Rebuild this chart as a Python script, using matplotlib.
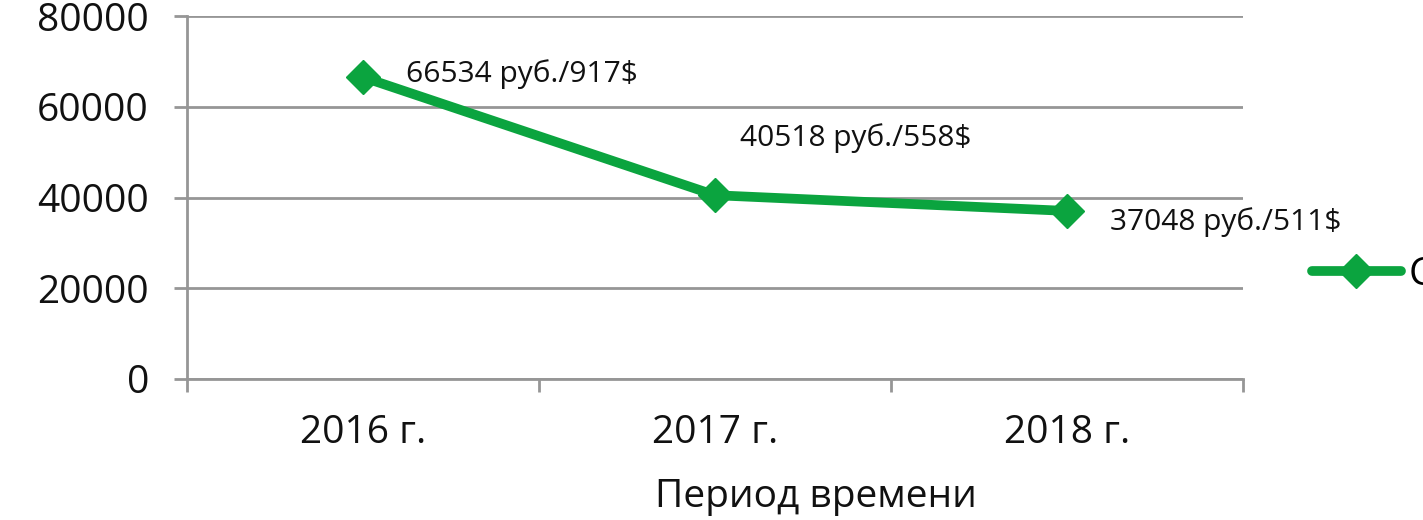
import matplotlib
matplotlib.use("Agg")
import matplotlib.pyplot as plt
from matplotlib.ticker import FixedLocator, NullFormatter

# data
years = ["2016 г.", "2017 г.", "2018 г."]
values = [66534, 40518, 37048]
labels = ["66534 руб./917$", "40518 руб./558$", "37048 руб./511$"]
label_offsets = [(31, 2), (18, 41), (31, -8)]  # points, relative to marker
y_ticks = [0, 20000, 40000, 60000, 80000]

green = "#0BA43F"
gray = "#969696"

plt.rcParams['font.family'] = ['Open Sans', 'DejaVu Sans']

fig = plt.figure(figsize=(14.23, 5.2), dpi=100)
ax = fig.add_axes([0.1314, 0.2712, 0.8735 - 0.1314, 0.969 - 0.2712])

x = list(range(len(years)))
ax.plot(x, values, color=green, lw=7, marker="D", markersize=17,
        solid_capstyle="round", label="Стоимость", clip_on=False, zorder=3)

for xi, v, lab, off in zip(x, values, labels, label_offsets):
    ax.annotate(lab, (xi, v), xytext=off, textcoords="offset points",
                ha="left", va="center", fontsize=21.5, color="#111111")

ax.set_xlim(-0.5, 2.5)
ax.set_ylim(0, 80000)

ax.xaxis.set_major_locator(FixedLocator([-0.5, 0.5, 1.5, 2.5]))
ax.xaxis.set_major_formatter(NullFormatter())
ax.xaxis.set_minor_locator(FixedLocator(x))
ax.set_xticklabels(years, minor=True)
ax.tick_params(axis="x", which="major", length=9.4, width=2, color=gray, direction="out")
ax.tick_params(axis="x", which="minor", length=0, pad=25, labelsize=28, labelcolor="#111111")

ax.set_yticks(y_ticks)
ax.set_yticklabels([str(t) for t in y_ticks])
ax.tick_params(axis="y", length=9.4, width=2, color=gray, direction="out",
               labelsize=28, labelcolor="#111111", pad=18)

ax.grid(axis="y", color=gray, lw=2)
ax.set_axisbelow(True)
for side in ["top", "right"]:
    ax.spines[side].set_visible(False)
for side in ["left", "bottom"]:
    ax.spines[side].set_color(gray)
    ax.spines[side].set_linewidth(2)

fig.text(816 / 1423, 1 - 497 / 520, "Период времени", ha="center", va="center",
         fontsize=28, color="#111111")

fig.legend(loc="center left", bbox_to_anchor=(1296 / 1423, 1 - 275 / 520),
           frameon=False, fontsize=28, handlelength=2.3, handletextpad=0.2,
           borderaxespad=0)

fig.savefig("out.png", dpi=100)
